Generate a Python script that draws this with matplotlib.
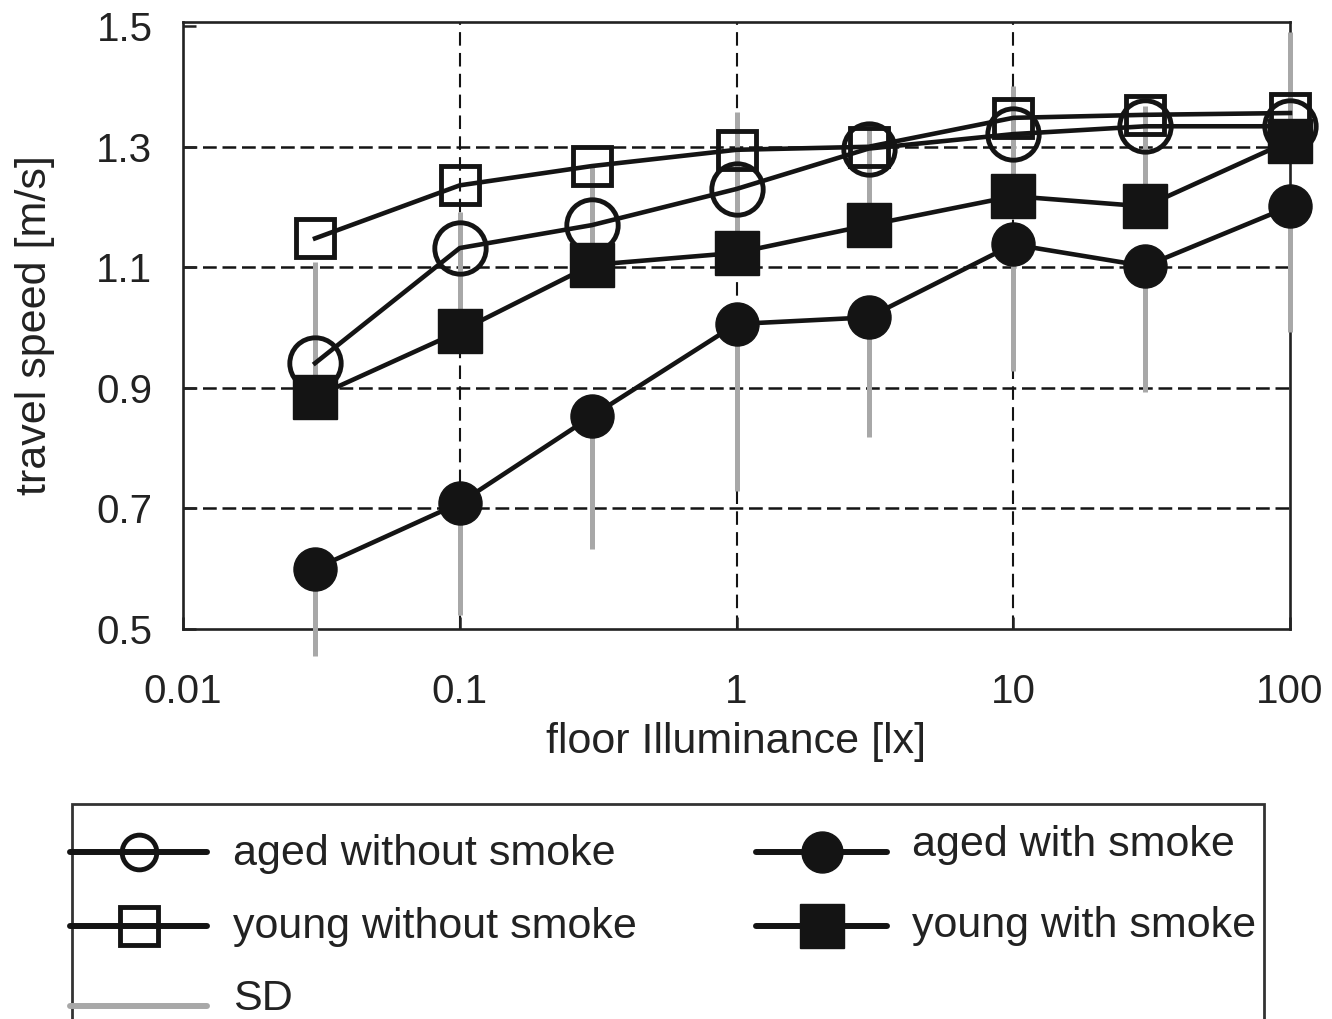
import matplotlib
matplotlib.use("Agg")
import matplotlib.pyplot as plt
from matplotlib.lines import Line2D
from matplotlib.patches import Rectangle
import numpy as np

plt.rcParams['font.family'] = ['Liberation Sans', 'DejaVu Sans']

# ---- data -------------------------------------------------------------
illuminance = [0.03, 0.1, 0.3, 1, 3, 10, 30, 100]

aged_without_smoke = [0.941, 1.132, 1.170, 1.230, 1.297, 1.321, 1.334, 1.334]
young_without_smoke = [1.148, 1.236, 1.268, 1.295, 1.300, 1.348, 1.353, 1.356]
aged_with_smoke = [0.600, 0.709, 0.853, 1.006, 1.017, 1.138, 1.102, 1.201]
young_with_smoke = [0.885, 0.994, 1.104, 1.124, 1.170, 1.218, 1.201, 1.310]

# standard deviations (aged with smoke drawn downward, young with smoke upward)
sd_aged_with_smoke = [0.145, 0.186, 0.220, 0.277, 0.199, 0.210, 0.209, 0.209]
sd_young_with_smoke = [0.224, 0.198, 0.167, 0.234, 0.159, 0.182, 0.166, 0.180]

x_ticks = [0.01, 0.1, 1, 10, 100]
x_tick_labels = ["0.01", "0.1", "1", "10", "100"]
y_ticks = [0.5, 0.7, 0.9, 1.1, 1.3, 1.5]
y_tick_labels = ["0.5", "0.7", "0.9", "1.1", "1.3", "1.5"]

legend_labels = ["aged without smoke", "young without smoke", "SD",
                 "aged with smoke", "young with smoke"]

# ---- figure -----------------------------------------------------------
W, H = 1332, 1019
fig = plt.figure(figsize=(W / 100, H / 100), dpi=100)
ax = fig.add_axes([183 / W, 1 - 629 / H, (1290 - 183) / W, (629 - 22) / H])

INK = "#141414"
GRAY = "#a8a8a8"

ax.set_xscale("log")
ax.set_xlim(0.01, 100)
ax.set_ylim(0.5, 1.507)

# dashed reference grid at the inner ticks
for yv in y_ticks[1:-1]:
    ax.axhline(yv, color=INK, lw=1.8, ls=(0, (5.5, 2.3)), zorder=1)
for xv in x_ticks[1:-1]:
    ax.axvline(xv, color=INK, lw=1.5, ls=(0, (6.5, 3.5)), zorder=1)

# SD bars
zeros = np.zeros(len(illuminance))
ax.errorbar(illuminance, aged_with_smoke,
            yerr=[sd_aged_with_smoke, zeros], fmt="none",
            ecolor=GRAY, elinewidth=3.6, capsize=0, zorder=2.7, clip_on=False)
ax.errorbar(illuminance, young_with_smoke,
            yerr=[zeros, sd_young_with_smoke], fmt="none",
            ecolor=GRAY, elinewidth=3.6, capsize=0, zorder=2.7, clip_on=False)

# series
line_kw = dict(color=INK, lw=3.3, zorder=3, clip_on=False)
ax.plot(illuminance, aged_without_smoke, marker="o", ms=37, mfc="none",
        mec=INK, mew=3.5, **line_kw)
ax.plot(illuminance, young_without_smoke, marker="s", ms=27.5, mfc="none",
        mec=INK, mew=3.5, **line_kw)
ax.plot(illuminance, young_with_smoke, marker="s", ms=31.5, mfc=INK,
        mec=INK, mew=1.0, **line_kw)
ax.plot(illuminance, aged_with_smoke, marker="o", ms=31, mfc=INK,
        mec=INK, mew=1.0, **line_kw)

# axes styling
for sp in ax.spines.values():
    sp.set_linewidth(1.9)
    sp.set_color("#222222")
    sp.set_zorder(2.5)

ax.set_xticks(x_ticks)
ax.set_xticklabels(x_tick_labels)
ax.xaxis.set_minor_locator(matplotlib.ticker.NullLocator())
ax.set_yticks(y_ticks)
ax.set_yticklabels(y_tick_labels)
ax.tick_params(axis="both", direction="in", length=9, width=1.8,
               colors="#222222", labelsize=29)
ax.tick_params(axis="x", pad=32)
ax.tick_params(axis="y", pad=22)
ax.tick_params(top=False, right=False)

ax.set_xlabel("floor Illuminance [lx]", fontsize=31, color="#222222")
ax.xaxis.set_label_coords(0.5, -0.153)
ax.set_ylabel("travel speed [m/s]", fontsize=31, color="#222222")
ax.yaxis.set_label_coords(-0.1156, 0.5)


# ---- legend box below the plot (drawn in pixel layout) ----------------
def fx(px):
    return px / W


def fy(py):
    return 1 - py / H


fig.add_artist(Rectangle((fx(72), fy(1060)), fx(1264) - fx(72),
                         fy(804) - fy(1060), transform=fig.transFigure,
                         fill=False, ec="#333333", lw=2.0, clip_on=False))

handle_styles = [
    dict(color=INK, lw=4.3, marker="o", ms=25, mfc="none", mec=INK, mew=3.5),
    dict(color=INK, lw=4.3, marker="s", ms=28, mfc="none", mec=INK, mew=3.5),
    dict(color=GRAY, lw=4.3),
    dict(color=INK, lw=4.3, marker="o", ms=29.5, mfc=INK, mec=INK, mew=1.0),
    dict(color=INK, lw=4.3, marker="s", ms=31, mfc=INK, mec=INK, mew=1.0),
]
# (handle x-range, line y, text x, text baseline y)
slots = [
    ((70, 207), 852, 233, 865),
    ((70, 207), 926, 233, 938),
    ((70, 207), 1006, 233, 1010),
    ((756, 887), 852, 912, 856),
    ((756, 887), 926, 912, 937),
]
for label, style, ((x0, x1), ly, tx, ty) in zip(legend_labels, handle_styles, slots):
    xs = [fx(x0), fx(x1)]
    ys = [fy(ly), fy(ly)]
    fig.add_artist(Line2D(xs, ys, transform=fig.transFigure,
                          solid_capstyle="round", **{k: v for k, v in style.items()
                                                     if k not in ("marker", "ms", "mfc", "mec", "mew")}))
    if "marker" in style:
        fig.add_artist(Line2D([fx((x0 + x1) / 2)], [fy(ly)],
                              transform=fig.transFigure, linestyle="none",
                              marker=style["marker"], ms=style["ms"],
                              mfc=style["mfc"], mec=style["mec"],
                              mew=style["mew"]))
    fig.text(fx(tx), fy(ty), label, fontsize=31, color="#222222",
             ha="left", va="baseline")

fig.savefig("out.png", dpi=100)
